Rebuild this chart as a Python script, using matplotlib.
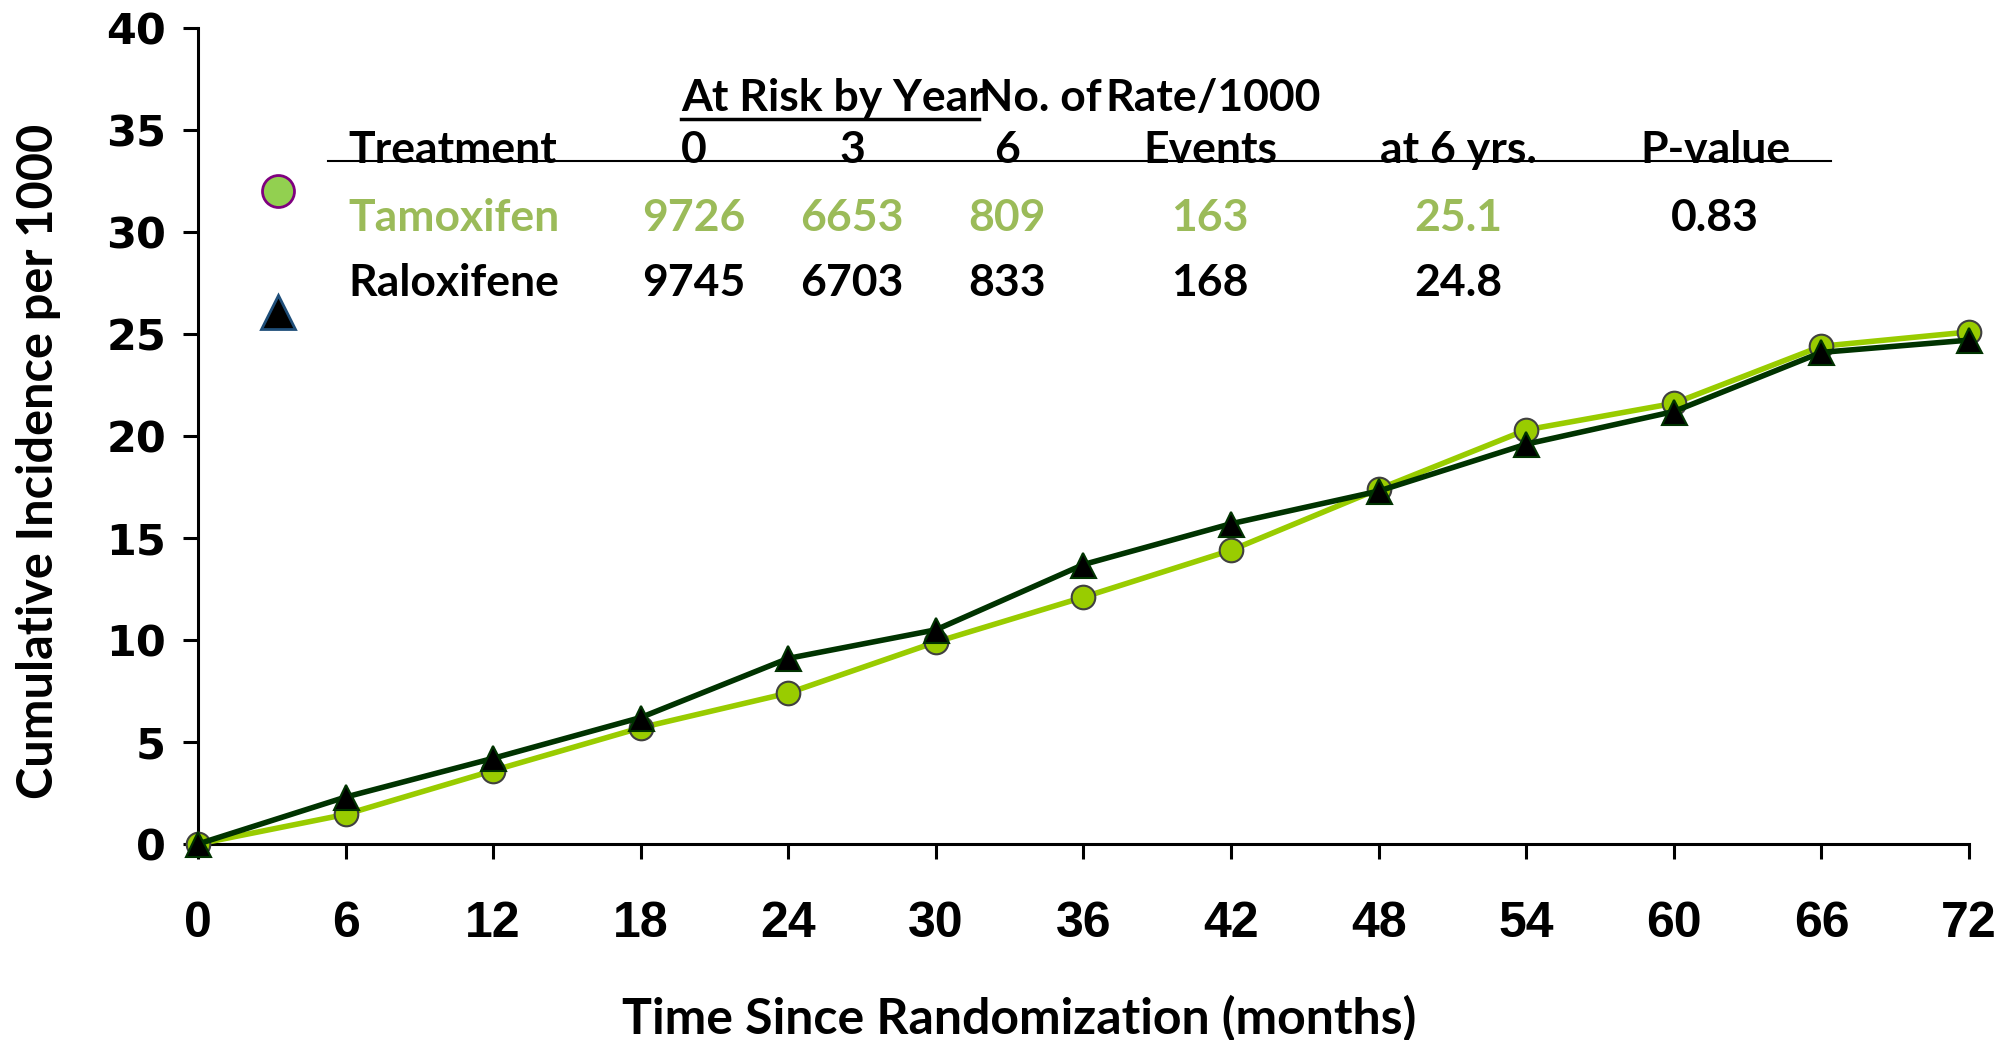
import matplotlib
matplotlib.use("Agg")
import matplotlib.pyplot as plt

W, H = 2015, 1040

months = [0, 6, 12, 18, 24, 30, 36, 42, 48, 54, 60, 66, 72]
tamoxifen = [0, 1.45, 3.6, 5.7, 7.4, 9.9, 12.1, 14.4, 17.4, 20.3, 21.6, 24.4, 25.1]
raloxifene = [0, 2.3, 4.2, 6.2, 9.1, 10.5, 13.7, 15.7, 17.3, 19.6, 21.2, 24.1, 24.7]

treatments = ["Tamoxifen", "Raloxifene"]
at_risk_0 = ["9726", "9745"]
at_risk_3 = ["6653", "6703"]
at_risk_6 = ["809", "833"]
events = ["163", "168"]
rate_6yr = ["25.1", "24.8"]
p_value = "0.83"

TAM_LINE = "#99CC00"
RAL_LINE = "#003300"
TAM_TEXT = "#9BBB59"

LABEL_FONT = ["Lato", "DejaVu Sans"]
TSIZE = 32

fig = plt.figure(figsize=(W / 100, H / 100), dpi=100)
ax = fig.add_axes([198 / W, 1 - 844 / H, (1969 - 198) / W, (844 - 28) / H])

ax.plot(months, tamoxifen, color=TAM_LINE, lw=4, marker="o", ms=17,
        mfc=TAM_LINE, mec="#404040", mew=1.5, clip_on=False, zorder=3)
ax.plot(months, raloxifene, color=RAL_LINE, lw=4, marker="^", ms=18,
        mfc="black", mec=RAL_LINE, mew=1.5, clip_on=False, zorder=4)

ax.set_xlim(0, 72)
ax.set_ylim(0, 40)
ax.set_xticks(months)
ax.set_yticks(range(0, 41, 5))
for s in ["top", "right"]:
    ax.spines[s].set_visible(False)
for s in ["left", "bottom"]:
    ax.spines[s].set_linewidth(2.2)
ax.tick_params(axis="both", direction="out", length=11, width=2.2)
ax.tick_params(axis="x", pad=30)
ax.tick_params(axis="y", pad=12)
for lab in ax.get_xticklabels():
    lab.set_fontfamily("Liberation Sans")
    lab.set_fontweight("bold")
    lab.set_fontsize(36)
for lab in ax.get_yticklabels():
    lab.set_fontfamily("DejaVu Sans")
    lab.set_fontweight("bold")
    lab.set_fontsize(31)

fig.text(39 / W, 1 - 461 / H, "Cumulative Incidence per 1000", rotation=90,
         ha="center", va="center", fontsize=35, fontweight="bold", family=LABEL_FONT)
fig.text(1019 / W, 1 - 1019 / H, "Time Since Randomization (months)",
         ha="center", va="center", fontsize=36, fontweight="bold", family=LABEL_FONT)


def put(x, y, s, color="black", ha="center"):
    fig.text(x / W, 1 - y / H, s, ha=ha, va="baseline", color=color,
             fontsize=TSIZE, fontweight="bold", family=LABEL_FONT)


# table header
put(681, 111, "At Risk by Year", ha="left")
fig.add_artist(plt.Line2D([681 / W, 979 / W], [1 - 119 / H] * 2, color="black", lw=2.5))
put(979, 111, "No. of", ha="left")
put(1105, 111, "Rate/1000", ha="left")

cols = [694, 852, 1007, 1210, 1458, 1715]
put(348, 163, "Treatment", ha="left")
for x, s in zip(cols, ["0", "3", "6", "Events", "at 6 yrs.", "P-value"]):
    put(x, 163, s)
fig.add_artist(plt.Line2D([328 / W, 1831 / W], [1 - 161 / H] * 2, color="black", lw=1.5))

rows_y = [231, 296]
row_colors = [TAM_TEXT, "black"]
for i, name in enumerate(treatments):
    y, c = rows_y[i], row_colors[i]
    put(348, y, name, color=c, ha="left")
    vals = [at_risk_0[i], at_risk_3[i], at_risk_6[i], events[i], rate_6yr[i]]
    for x, s in zip(cols[:5], vals):
        put(x, y, s, color=c)
put(cols[5], rows_y[0], p_value)

# legend symbols at the left of the table
fig.add_artist(plt.Line2D([278 / W], [1 - 191 / H], marker="o", ms=23, mfc="#92D050",
                          mec="#7F007F", mew=2, ls="none"))
fig.add_artist(plt.Line2D([278 / W], [1 - 312 / H], marker="^", ms=25, mfc="black",
                          mec="#1F4E79", mew=2, ls="none"))

fig.savefig("out.png", dpi=100)
